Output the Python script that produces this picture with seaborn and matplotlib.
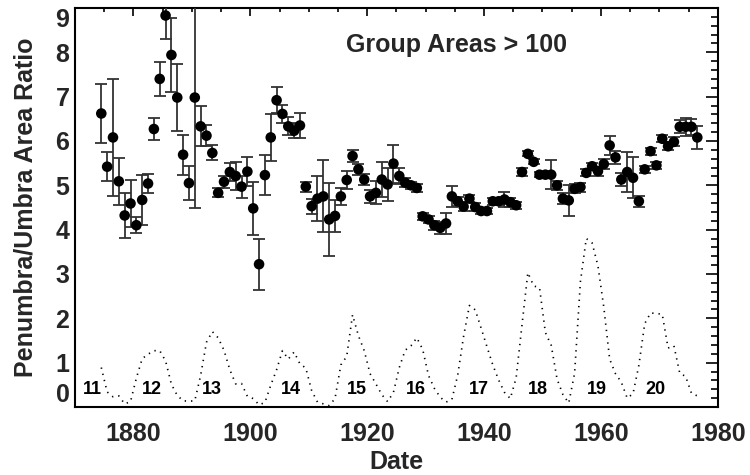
import numpy as np
import pandas as pd
import matplotlib
matplotlib.use('Agg')
import matplotlib.pyplot as plt
import seaborn as sns
from matplotlib.ticker import MultipleLocator

# yearly points (plotted at mid-year)
years = list(range(1874, 1977))

ratio = [
    6.62, 5.42, 6.08, 5.09, 4.32, 4.59,
    4.10, 4.67, 5.04, 6.27, 7.40, 8.83, 7.94, 6.98, 5.69, 5.05,
    6.98, 6.33, 6.12, 5.73, 4.83, 5.08, 5.30, 5.21, 4.97, 5.31,
    4.48, 3.22, 5.23, 6.08, 6.92, 6.61, 6.33, 6.23, 6.35, 4.97,
    4.53, 4.70, 4.75, 4.23, 4.31, 4.75, 5.12, 5.66, 5.36, 5.13,
    4.75, 4.83, 5.13, 5.02, 5.49, 5.21, 5.06, 5.00, 4.94, 4.30,
    4.23, 4.10, 4.04, 4.14, 4.75, 4.64, 4.52, 4.70, 4.51, 4.42,
    4.42, 4.64, 4.64, 4.68, 4.62, 4.55, 5.30, 5.71, 5.53, 5.24,
    5.24, 5.24, 5.00, 4.70, 4.66, 4.92, 4.96, 5.28, 5.43, 5.32,
    5.48, 5.90, 5.63, 5.13, 5.30, 5.17, 4.64, 5.36, 5.77, 5.45,
    6.05, 5.88, 5.98, 6.32, 6.32, 6.32, 6.08,
]

ratio_err = [
    0.66, 0.33, 1.32, 0.53, 0.50, 0.52,
    0.18, 0.57, 0.21, 0.25, 0.38, 0.53, 0.83, 0.75, 0.45, 0.39,
    2.49, 0.45, 0.24, 0.17, 0.10, 0.14, 0.21, 0.32, 0.25, 0.32,
    0.59, 0.58, 0.45, 0.53, 0.30, 0.20, 0.20, 0.17, 0.29, 0.11,
    0.17, 0.50, 0.81, 0.82, 0.36, 0.20, 0.20, 0.13, 0.12, 0.13,
    0.15, 0.26, 0.40, 0.37, 0.43, 0.17, 0.10, 0.08, 0.08, 0.08,
    0.08, 0.10, 0.13, 0.24, 0.24, 0.10, 0.10, 0.08, 0.08, 0.06,
    0.06, 0.08, 0.08, 0.18, 0.10, 0.08, 0.08, 0.06, 0.06, 0.06,
    0.06, 0.33, 0.10, 0.12, 0.35, 0.10, 0.10, 0.08, 0.08, 0.10,
    0.12, 0.22, 0.15, 0.15, 0.45, 0.46, 0.12, 0.08, 0.08, 0.08,
    0.08, 0.08, 0.10, 0.15, 0.20, 0.18, 0.26,
]

# scaled sunspot number (dotted curve)
sunspots = [
    0.89, 0.34, 0.23, 0.25, 0.07, 0.12,
    0.65, 1.09, 1.19, 1.27, 1.27, 1.04, 0.51, 0.26, 0.14, 0.13,
    0.14, 0.71, 1.46, 1.70, 1.56, 1.28, 0.84, 0.52, 0.53, 0.24,
    0.19, 0.05, 0.10, 0.49, 0.84, 1.27, 1.08, 1.24, 0.97, 0.88,
    0.37, 0.11, 0.07, 0.03, 0.19, 0.95, 1.14, 2.08, 1.61, 1.27,
    0.75, 0.52, 0.28, 0.12, 0.33, 0.89, 1.28, 1.38, 1.56, 1.30,
    0.71, 0.42, 0.22, 0.11, 0.17, 0.72, 1.59, 2.29, 2.19, 1.78,
    1.36, 0.95, 0.61, 0.33, 0.19, 0.66, 1.85, 3.03, 2.73, 2.69,
    1.68, 1.39, 0.63, 0.28, 0.09, 0.76, 2.83, 3.80, 3.70, 3.18,
    2.25, 1.08, 0.75, 0.56, 0.20, 0.30, 0.94, 1.88, 2.12, 2.11,
    2.09, 1.33, 1.38, 0.76, 0.69, 0.31, 0.25,
]

cycle_labels = ['11', '12', '13', '14', '15', '16', '17', '18', '19', '20']
cycle_x = [1872.9, 1883.1, 1893.5, 1907.0, 1918.2,
           1928.3, 1939.2, 1949.2, 1959.3, 1969.3]


def main():
    sns.set_theme(style='white')
    plt.rcParams['font.family'] = ['Liberation Sans', 'DejaVu Sans']
    plt.rcParams['font.weight'] = 'bold'
    plt.rcParams['axes.labelweight'] = 'bold'

    df = pd.DataFrame({
        'Date': np.array(years) + 0.5,
        'Ratio': ratio,
        'Err': ratio_err,
        'Sunspots': sunspots,
    })

    fig = plt.figure(figsize=(7.5, 4.75), dpi=100)
    ax = fig.add_axes([0.1, 0.1432, 0.857, 0.84])

    sns.lineplot(data=df, x='Date', y='Sunspots', ax=ax, color='black',
                 lw=1.2, linestyle=(0, (0.8, 3.0)), zorder=2)
    ax.errorbar(df['Date'], df['Ratio'], yerr=df['Err'], fmt='none',
                ecolor='#333333', elinewidth=1.3, capsize=4.5, capthick=1.3,
                zorder=3)
    sns.scatterplot(data=df, x='Date', y='Ratio', ax=ax, color='black',
                    s=58, edgecolor='none', zorder=4)

    for lab, xc in zip(cycle_labels, cycle_x):
        ax.text(xc, 0.39, lab, ha='center', va='center', fontsize=13,
                fontweight='bold', color='black')

    ax.text(0.594, 0.907, 'Group Areas > 100', transform=ax.transAxes,
            ha='center', va='center', fontsize=18, fontweight='bold')

    ax.set_xlim(1870, 1980)
    ax.set_ylim(0, 9)
    ax.xaxis.set_major_locator(MultipleLocator(20))
    ax.xaxis.set_minor_locator(MultipleLocator(5))
    ax.yaxis.set_major_locator(MultipleLocator(1))
    ax.yaxis.set_minor_locator(MultipleLocator(0.2))

    ax.tick_params(axis='both', which='both', direction='in', top=True,
                   right=True, width=1.2, color='black')
    ax.tick_params(axis='x', which='major', length=6, pad=11, labelsize=18)
    ax.tick_params(axis='x', which='minor', length=3)
    ax.tick_params(axis='y', which='major', length=9, pad=4, labelsize=18)
    ax.tick_params(axis='y', which='minor', length=4.8)

    for sp in ax.spines.values():
        sp.set_color('black')
        sp.set_linewidth(1.5)

    ax.set_xlabel('Date', fontsize=18, fontweight='bold')
    ax.set_ylabel('Penumbra/Umbra Area Ratio', fontsize=18, fontweight='bold')
    ax.xaxis.set_label_coords(0.5, -0.108)
    ax.yaxis.set_label_coords(-0.058, 0.5)

    fig.canvas.draw()
    # keep end labels inside the axis range, like the original
    for t in ax.get_yticklabels():
        pos = t.get_position()[1]
        if abs(pos - 0) < 1e-6:
            t.set_va('bottom')
        elif abs(pos - 9) < 1e-6:
            t.set_va('top')
    for t in ax.get_xticklabels() + ax.get_yticklabels():
        t.set_fontweight('bold')

    plt.savefig('out.png', dpi=100)


if __name__ == '__main__':
    main()
